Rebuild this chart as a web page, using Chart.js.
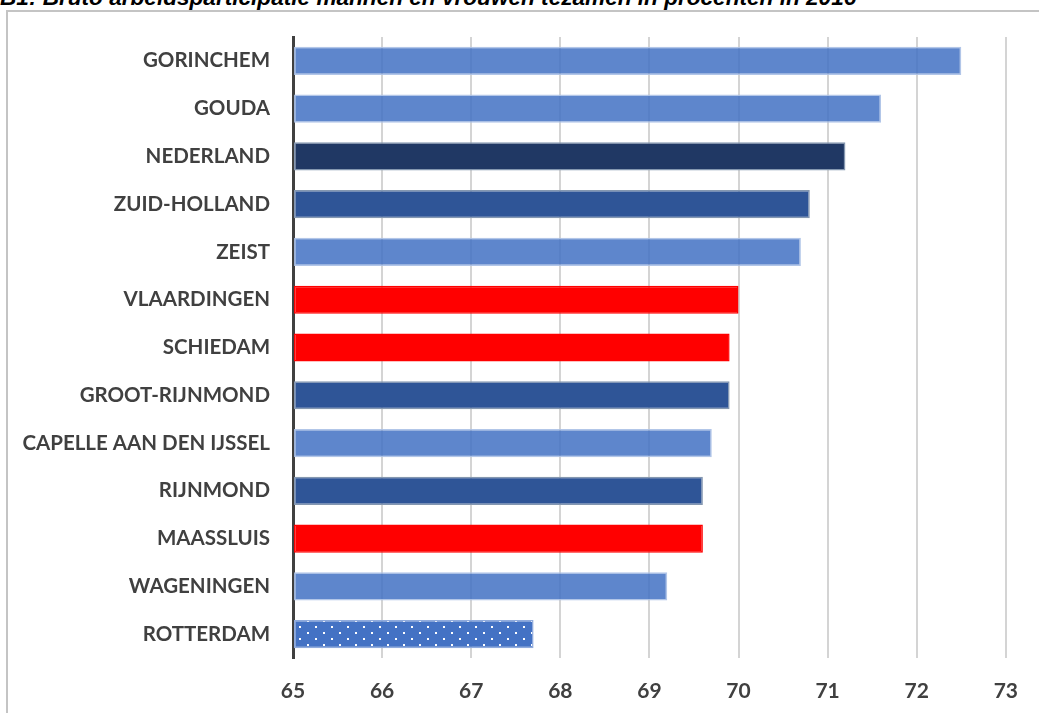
<!DOCTYPE html>
<html>
<head>
<meta charset="utf-8">
<script src="https://cdn.jsdelivr.net/npm/chart.js@4.4.0/dist/chart.umd.min.js"></script>
<style>
  html, body { margin: 0; padding: 0; background: #fff; overflow: hidden; }
  #title {
    position: absolute; left: 0; top: -15px; white-space: nowrap;
    font: italic bold 22.6px "Liberation Sans", Arial, sans-serif; line-height: 26px; color: #000;
  }
  #box {
    position: absolute; left: 6px; top: 10px; width: 1100px; height: 760px;
    border: 2px solid #c4c4c4; background: #fff;
  }
  #wrap { position: absolute; left: 0; top: 0; width: 1031px; height: 701px; }
</style>
</head>
<body>
<div id="title">B1: Bruto arbeidsparticipatie mannen en vrouwen tezamen in procenten in 2016</div>
<div id="box">
  <div id="wrap"><canvas id="barChart"></canvas></div>
</div>
<script>
// Gemeenten / regio's, van hoog naar laag
const categories = ['GORINCHEM', 'GOUDA', 'NEDERLAND', 'ZUID-HOLLAND', 'ZEIST', 'VLAARDINGEN', 'SCHIEDAM',
  'GROOT-RIJNMOND', 'CAPELLE AAN DEN IJSSEL', 'RIJNMOND', 'MAASSLUIS', 'WAGENINGEN', 'ROTTERDAM'];
const participation = [72.5, 71.6, 71.2, 70.8, 70.7, 70.0, 69.9, 69.9, 69.7, 69.6, 69.6, 69.2, 67.7];
// soort gebied per balk
const areaType = ['gemeente', 'gemeente', 'land', 'regio', 'gemeente', 'buur', 'buur',
  'regio', 'gemeente', 'regio', 'buur', 'gemeente', 'rotterdam'];
const xTicks = [65, 66, 67, 68, 69, 70, 71, 72, 73];

// dotted fill for Rotterdam
function dotPattern() {
  const c = document.createElement('canvas');
  c.width = 16; c.height = 12;
  const ctx = c.getContext('2d');
  ctx.fillStyle = '#4472c4';
  ctx.fillRect(0, 0, 16, 12);
  ctx.fillStyle = '#ffffff';
  ctx.fillRect(3, 2, 2, 2);
  ctx.fillRect(11, 8, 2, 2);
  return ctx.createPattern(c, 'repeat');
}

const fills = {
  gemeente: 'rgba(68, 114, 196, 0.86)',
  land: '#203864',
  regio: '#2f5597',
  buur: '#ff0000',
  rotterdam: dotPattern()
};
const borders = {
  gemeente: 'rgba(170, 192, 230, 0.9)',
  land: '#8497b0',
  regio: '#8497b0',
  buur: '#ff0000',
  rotterdam: '#8faadc'
};

const ctx = document.getElementById('barChart').getContext('2d');
const chart = new Chart(ctx, {
  type: 'bar',
  data: {
    labels: categories,
    datasets: [{
      data: participation,
      backgroundColor: areaType.map(t => fills[t]),
      borderColor: areaType.map(t => borders[t]),
      borderWidth: 1.5,
      borderSkipped: false,
      base: 65,
      barPercentage: 0.59,
      categoryPercentage: 1
    }]
  },
  options: {
    indexAxis: 'y',
    responsive: true,
    maintainAspectRatio: false,
    animation: false,
    layout: { padding: { left: 0, top: 25, right: 32, bottom: 0 } },
    plugins: { legend: { display: false }, tooltip: { enabled: false } },
    scales: {
      x: {
        type: 'linear',
        min: 65,
        max: 73,
        afterBuildTicks: scale => { scale.ticks = xTicks.map(v => ({ value: v })); },
        afterFit: scale => { scale.height = 55; },
        grid: { color: '#d4d4d4', lineWidth: 2, drawTicks: false },
        border: { display: false },
        ticks: {
          padding: 21,
          color: '#404040',
          font: { family: 'Lato', size: 21, weight: 'bold' }
        }
      },
      y: {
        afterFit: scale => {
          scale.width = 285;
          // the label padding should not push the plot area down
          scale.paddingTop = 0;
          scale.paddingBottom = 0;
        },
        grid: { display: false, drawTicks: false },
        border: { display: true, color: '#404040', width: 3 },
        ticks: {
          padding: 23,
          color: '#404040',
          font: { family: 'Lato', size: 20.5, weight: 'bold' }
        }
      }
    }
  }
});
</script>
</body>
</html>
